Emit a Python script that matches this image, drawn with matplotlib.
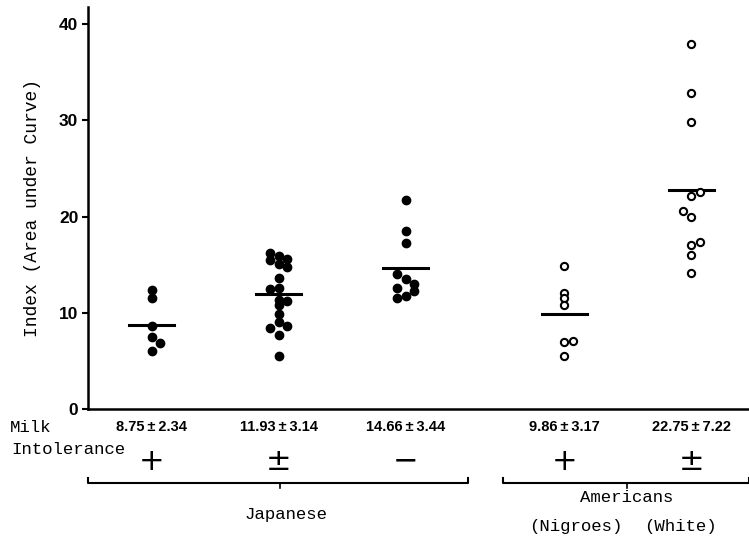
import numpy as np
import matplotlib.pyplot as plt

# group data (index values)
groups = ['Japanese +', 'Japanese ±', 'Japanese −', 'Negroes +', 'White ±']
jap_pos = [12.4, 11.5, 8.6, 7.5, 6.9, 6.0]
jap_amb = [16.2, 15.9, 15.6, 15.5, 15.1, 14.8, 13.6, 12.5, 12.6,
           11.3, 11.2, 10.8, 9.9, 9.0, 8.6, 8.4, 7.7, 5.5]
jap_neg = [21.7, 18.5, 17.3, 14.0, 13.5, 13.0, 12.6, 12.3, 11.7, 11.5]
neg_pos = [14.9, 12.1, 11.5, 10.8, 7.1, 7.0, 5.5]
wht_amb = [38.0, 32.9, 29.8, 22.6, 22.1, 20.6, 20.0, 17.4, 17.1, 16.0, 14.1]

means = [8.75, 11.93, 14.66, 9.86, 22.75]
sds = [2.34, 3.14, 3.44, 3.17, 7.22]
signs = ['+', '±', '−', '+', '±']

# side offsets of the dots (columns left/right of centre)
cols = [[0, 0, 0, 0, 1, 0],
        [-1, 0, 1, -1, 0, 1, 0, -1, 0, 0, 1, 0, 0, 0, 1, -1, 0, 0],
        [0, 0, 0, -1, 0, 1, -1, 1, 0, -1],
        [0, 0, 0, 0, 1, 0, 0],
        [0, 0, 0, 1, 0, -1, 0, 1, 0, 0, 0]]

xpos = [1, 2, 3, 4.25, 5.25]
step = 0.067
mono = 'Liberation Mono'
narrow = ['Liberation Sans Narrow', 'Liberation Sans', 'DejaVu Sans']

fig = plt.figure(figsize=(7.49, 5.47), dpi=100)
ax = fig.add_axes([88/749, (547-409)/547, (749-88)/749, (409-7)/547])

data = [jap_pos, jap_amb, jap_neg, neg_pos, wht_amb]
for i, vals in enumerate(data):
    x = xpos[i] + step*np.array(cols[i])
    if i < 3:
        ax.plot(x, vals, 'o', color='black', ms=6, zorder=3)
    else:
        ax.plot(x, vals, 'o', mfc='white', mec='black', ms=5.2, mew=1.5, zorder=3)
    ax.plot([xpos[i]-0.18, xpos[i]+0.18], [means[i], means[i]], color='black', lw=2.2, zorder=2)

ax.set_xlim(0.5, 5.703)
ax.set_ylim(0, 41.8)
ax.set_yticks([0, 10, 20, 30, 40])
ax.set_xticks([])
for s in ['top', 'right']:
    ax.spines[s].set_visible(False)
ax.spines['left'].set_linewidth(1.8)
ax.spines['bottom'].set_linewidth(1.8)
ax.tick_params(axis='y', length=4, width=1.5, pad=3)
for lab in ax.get_yticklabels():
    lab.set_family(narrow)
    lab.set_fontweight('bold')
    lab.set_fontsize(12.5)

ax.set_ylabel('Index (Area under Curve)', family=mono, fontsize=13, labelpad=13)

trans = ax.get_xaxis_transform()
def ya(y):
    return (409 - y)/402

for i in range(5):
    ax.text(xpos[i], ya(427), '%.2f\u2009±\u2009%.2f' % (means[i], sds[i]), transform=trans,
            ha='center', va='center', family=narrow, fontweight='bold', fontsize=10.5)
    ax.text(xpos[i], ya(461), signs[i], transform=trans, ha='center', va='center',
            fontsize=22, family='DejaVu Sans')

fig.text(10/749, 1-427/547, 'Milk', family=mono, fontsize=12.5, va='center')
fig.text(11/749, 1-449/547, 'Intolerance', family=mono, fontsize=12.5, va='center')

# brackets under the groups
for x0, x1, xm in [(0.5, 3.49, 2.01), (3.77, 5.703, 4.74)]:
    ax.plot([x0, x0, x1, x1], [ya(478), ya(483), ya(483), ya(478)], transform=trans,
            color='black', lw=1.5, clip_on=False)
    ax.plot([xm, xm], [ya(483), ya(488)], transform=trans, color='black', lw=1.2, clip_on=False)

ax.text(2.06, ya(515), 'Japanese', transform=trans, ha='center', va='center', family=mono, fontsize=12.5)
ax.text(4.74, ya(497), 'Americans', transform=trans, ha='center', va='center', family=mono, fontsize=12.5)
ax.text(4.34, ya(526), '(Nigroes)', transform=trans, ha='center', va='center', family=mono, fontsize=12.5)
ax.text(5.16, ya(526), '(White)', transform=trans, ha='center', va='center', family=mono, fontsize=12.5)

fig.savefig('out.png', dpi=100)
